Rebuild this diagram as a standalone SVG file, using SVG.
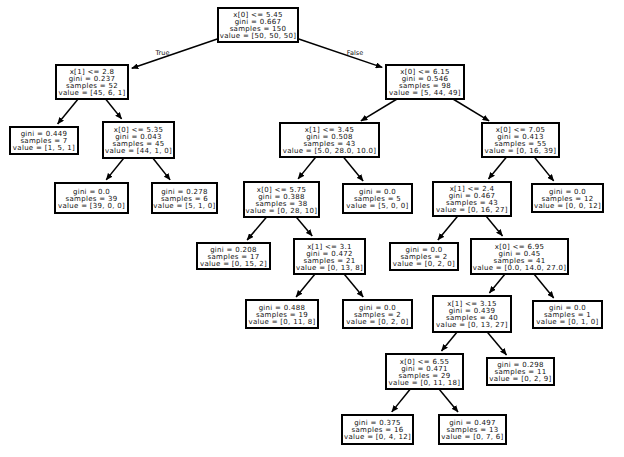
<svg xmlns="http://www.w3.org/2000/svg" width="624" height="457" viewBox="0 0 624 457">
<defs>
<marker id="ah" markerUnits="userSpaceOnUse" markerWidth="7" markerHeight="6" refX="6.5" refY="3" orient="auto">
<path d="M0,0 L7,3 L0,6 z" fill="#000"/>
</marker>
<style>
.box{fill:#fff;stroke:#000;stroke-width:2}
.t{font-family:"DejaVu Sans",sans-serif;font-size:7px;letter-spacing:0.3px;fill:#111;text-anchor:middle}
.lbl{font-family:"DejaVu Sans",sans-serif;font-size:6.5px;fill:#111;text-anchor:middle}
.e{stroke:#000;stroke-width:1.5;fill:none;marker-end:url(#ah)}
</style>
</defs>
<rect width="624" height="457" fill="#fff"/>
<g id="edges">
<line class="e" x1="218" y1="38.7" x2="131.8" y2="68.3"/>
<line class="e" x1="298" y1="38.7" x2="382.2" y2="67.4"/>
<line class="e" x1="78.1" y1="99" x2="57.6" y2="123.9"/>
<line class="e" x1="105.6" y1="99" x2="121.6" y2="118.9"/>
<line class="e" x1="123.9" y1="158" x2="106.2" y2="179.9"/>
<line class="e" x1="152.8" y1="158" x2="170.1" y2="179.9"/>
<line class="e" x1="397" y1="99" x2="360.9" y2="120.9"/>
<line class="e" x1="453" y1="99" x2="489.1" y2="120.9"/>
<line class="e" x1="315.8" y1="157" x2="298.1" y2="178.9"/>
<line class="e" x1="343.4" y1="157" x2="363.1" y2="180.9"/>
<line class="e" x1="506.5" y1="157" x2="488.5" y2="178.9"/>
<line class="e" x1="534.3" y1="157" x2="553.7" y2="180.9"/>
<line class="e" x1="266.6" y1="217" x2="247.1" y2="240"/>
<line class="e" x1="296.2" y1="217" x2="312.2" y2="235.9"/>
<line class="e" x1="457.8" y1="216" x2="437.9" y2="239.9"/>
<line class="e" x1="486" y1="216" x2="502.5" y2="235.9"/>
<line class="e" x1="315" y1="274" x2="296.1" y2="296.9"/>
<line class="e" x1="344.1" y1="274" x2="363.2" y2="296.9"/>
<line class="e" x1="505" y1="274" x2="489.4" y2="292.9"/>
<line class="e" x1="534" y1="274" x2="553.7" y2="297.9"/>
<line class="e" x1="457.1" y1="332" x2="441.5" y2="350.9"/>
<line class="e" x1="487.2" y1="332" x2="506.5" y2="354.9"/>
<line class="e" x1="410.3" y1="389" x2="391.8" y2="411.9"/>
<line class="e" x1="439" y1="389" x2="458" y2="411.9"/>
<text class="lbl" x="162.5" y="54.5">True</text>
<text class="lbl" x="355" y="54.5">False</text>
</g>
<g id="n0"><rect class="box" x="218" y="8" width="80" height="34"/><text class="t"><tspan x="258" y="17">x[0] &lt;= 5.45</tspan><tspan x="258" y="24">gini = 0.667</tspan><tspan x="258" y="31">samples = 150</tspan><tspan x="258" y="38">value = [50, 50, 50]</tspan></text></g>
<g id="n1"><rect class="box" x="56" y="65" width="72" height="34"/><text class="t"><tspan x="92" y="74">x[1] &lt;= 2.8</tspan><tspan x="92" y="81">gini = 0.237</tspan><tspan x="92" y="88">samples = 52</tspan><tspan x="92" y="95">value = [45, 6, 1]</tspan></text></g>
<g id="n2"><rect class="box" x="386" y="65" width="78" height="34"/><text class="t"><tspan x="425" y="74">x[0] &lt;= 6.15</tspan><tspan x="425" y="81">gini = 0.546</tspan><tspan x="425" y="88">samples = 98</tspan><tspan x="425" y="95">value = [5, 44, 49]</tspan></text></g>
<g id="n3"><rect class="box" x="10" y="127" width="68" height="27"/><text class="t"><tspan x="44" y="136">gini = 0.449</tspan><tspan x="44" y="143">samples = 7</tspan><tspan x="44" y="150">value = [1, 5, 1]</tspan></text></g>
<g id="n4"><rect class="box" x="103" y="122" width="71" height="36"/><text class="t"><tspan x="138.5" y="132">x[0] &lt;= 5.35</tspan><tspan x="138.5" y="139">gini = 0.043</tspan><tspan x="138.5" y="146">samples = 45</tspan><tspan x="138.5" y="153">value = [44, 1, 0]</tspan></text></g>
<g id="n5"><rect class="box" x="55" y="183" width="73" height="30"/><text class="t"><tspan x="91.5" y="193.5">gini = 0.0</tspan><tspan x="91.5" y="200.5">samples = 39</tspan><tspan x="91.5" y="207.5">value = [39, 0, 0]</tspan></text></g>
<g id="n6"><rect class="box" x="152" y="183" width="65" height="30"/><text class="t"><tspan x="184.5" y="193.5">gini = 0.278</tspan><tspan x="184.5" y="200.5">samples = 6</tspan><tspan x="184.5" y="207.5">value = [5, 1, 0]</tspan></text></g>
<g id="n7"><rect class="box" x="280" y="123" width="99" height="34"/><text class="t"><tspan x="329.5" y="132">x[1] &lt;= 3.45</tspan><tspan x="329.5" y="139">gini = 0.508</tspan><tspan x="329.5" y="146">samples = 43</tspan><tspan x="329.5" y="153">value = [5.0, 28.0, 10.0]</tspan></text></g>
<g id="n8"><rect class="box" x="482" y="123" width="77" height="34"/><text class="t"><tspan x="520.5" y="132">x[0] &lt;= 7.05</tspan><tspan x="520.5" y="139">gini = 0.413</tspan><tspan x="520.5" y="146">samples = 55</tspan><tspan x="520.5" y="153">value = [0, 16, 39]</tspan></text></g>
<g id="n9"><rect class="box" x="244" y="182" width="75" height="35"/><text class="t"><tspan x="281.5" y="191.5">x[0] &lt;= 5.75</tspan><tspan x="281.5" y="198.5">gini = 0.388</tspan><tspan x="281.5" y="205.5">samples = 38</tspan><tspan x="281.5" y="212.5">value = [0, 28, 10]</tspan></text></g>
<g id="n10"><rect class="box" x="343" y="184" width="69" height="29"/><text class="t"><tspan x="377.5" y="194">gini = 0.0</tspan><tspan x="377.5" y="201">samples = 5</tspan><tspan x="377.5" y="208">value = [5, 0, 0]</tspan></text></g>
<g id="n11"><rect class="box" x="433" y="182" width="78" height="34"/><text class="t"><tspan x="472" y="191">x[1] &lt;= 2.4</tspan><tspan x="472" y="198">gini = 0.467</tspan><tspan x="472" y="205">samples = 43</tspan><tspan x="472" y="212">value = [0, 16, 27]</tspan></text></g>
<g id="n12"><rect class="box" x="532" y="184" width="71" height="28"/><text class="t"><tspan x="567.5" y="193.5">gini = 0.0</tspan><tspan x="567.5" y="200.5">samples = 12</tspan><tspan x="567.5" y="207.5">value = [0, 0, 12]</tspan></text></g>
<g id="n13"><rect class="box" x="197" y="243" width="73" height="26"/><text class="t"><tspan x="233.5" y="251.5">gini = 0.208</tspan><tspan x="233.5" y="258.5">samples = 17</tspan><tspan x="233.5" y="265.5">value = [0, 15, 2]</tspan></text></g>
<g id="n14"><rect class="box" x="294" y="239" width="71" height="35"/><text class="t"><tspan x="329.5" y="248.5">x[1] &lt;= 3.1</tspan><tspan x="329.5" y="255.5">gini = 0.472</tspan><tspan x="329.5" y="262.5">samples = 21</tspan><tspan x="329.5" y="269.5">value = [0, 13, 8]</tspan></text></g>
<g id="n15"><rect class="box" x="390" y="243" width="68" height="27"/><text class="t"><tspan x="424" y="252">gini = 0.0</tspan><tspan x="424" y="259">samples = 2</tspan><tspan x="424" y="266">value = [0, 2, 0]</tspan></text></g>
<g id="n16"><rect class="box" x="471" y="239" width="97" height="35"/><text class="t"><tspan x="519.5" y="248.5">x[0] &lt;= 6.95</tspan><tspan x="519.5" y="255.5">gini = 0.45</tspan><tspan x="519.5" y="262.5">samples = 41</tspan><tspan x="519.5" y="269.5">value = [0.0, 14.0, 27.0]</tspan></text></g>
<g id="n17"><rect class="box" x="246" y="300" width="72" height="28"/><text class="t"><tspan x="282" y="309.5">gini = 0.488</tspan><tspan x="282" y="316.5">samples = 19</tspan><tspan x="282" y="323.5">value = [0, 11, 8]</tspan></text></g>
<g id="n18"><rect class="box" x="343" y="300" width="69" height="28"/><text class="t"><tspan x="377.5" y="309.5">gini = 0.0</tspan><tspan x="377.5" y="316.5">samples = 2</tspan><tspan x="377.5" y="323.5">value = [0, 2, 0]</tspan></text></g>
<g id="n19"><rect class="box" x="433" y="296" width="78" height="36"/><text class="t"><tspan x="472" y="306">x[1] &lt;= 3.15</tspan><tspan x="472" y="313">gini = 0.439</tspan><tspan x="472" y="320">samples = 40</tspan><tspan x="472" y="327">value = [0, 13, 27]</tspan></text></g>
<g id="n20"><rect class="box" x="533" y="301" width="69" height="27"/><text class="t"><tspan x="567.5" y="310">gini = 0.0</tspan><tspan x="567.5" y="317">samples = 1</tspan><tspan x="567.5" y="324">value = [0, 1, 0]</tspan></text></g>
<g id="n21"><rect class="box" x="386" y="354" width="77" height="35"/><text class="t"><tspan x="424.5" y="363.5">x[0] &lt;= 6.55</tspan><tspan x="424.5" y="370.5">gini = 0.471</tspan><tspan x="424.5" y="377.5">samples = 29</tspan><tspan x="424.5" y="384.5">value = [0, 11, 18]</tspan></text></g>
<g id="n22"><rect class="box" x="487" y="358" width="67" height="27"/><text class="t"><tspan x="520.5" y="367">gini = 0.298</tspan><tspan x="520.5" y="374">samples = 11</tspan><tspan x="520.5" y="381">value = [0, 2, 9]</tspan></text></g>
<g id="n23"><rect class="box" x="342" y="415" width="71" height="29"/><text class="t"><tspan x="377.5" y="425">gini = 0.375</tspan><tspan x="377.5" y="432">samples = 16</tspan><tspan x="377.5" y="439">value = [0, 4, 12]</tspan></text></g>
<g id="n24"><rect class="box" x="439" y="415" width="67" height="29"/><text class="t"><tspan x="472.5" y="425">gini = 0.497</tspan><tspan x="472.5" y="432">samples = 13</tspan><tspan x="472.5" y="439">value = [0, 7, 6]</tspan></text></g>
</svg>
